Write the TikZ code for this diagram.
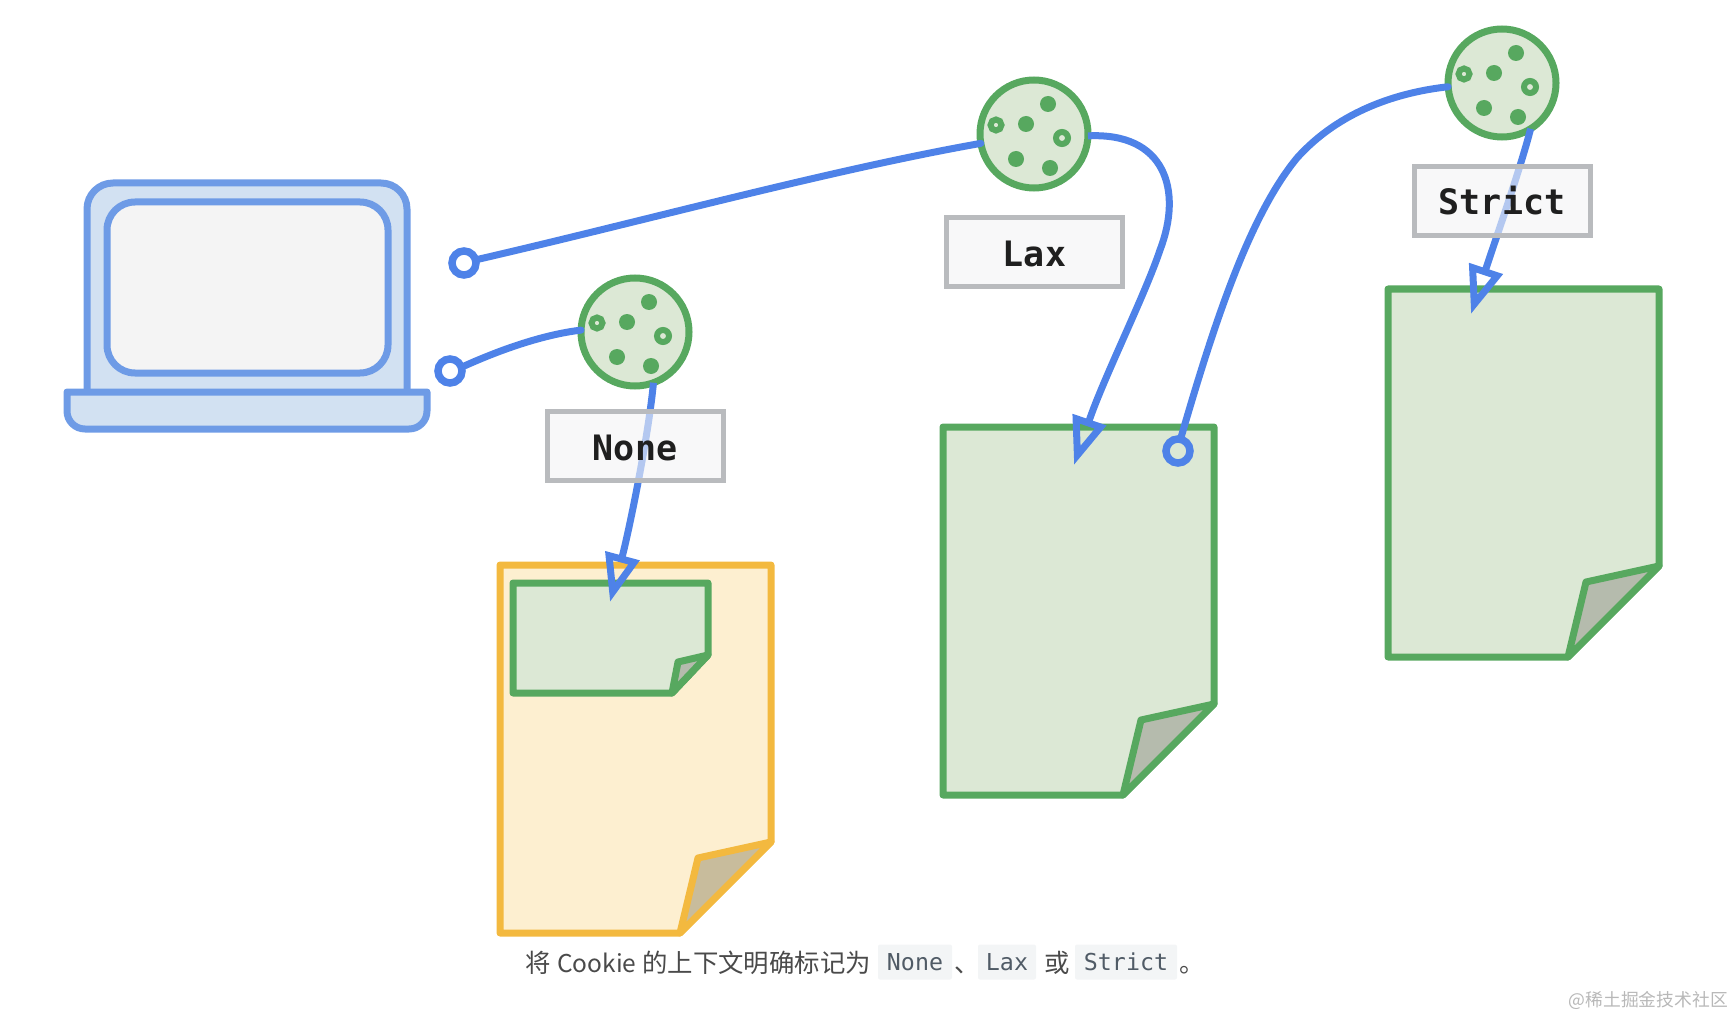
\documentclass[tikz,border=0pt]{standalone}
\usepackage{fontspec}
\usetikzlibrary{arrows.meta}
\setmonofont{DejaVu Sans Mono}
\newfontfamily\cjkfont{Noto Sans CJK SC}
\definecolor{linkblue}{HTML}{4E82E8}
\definecolor{lapblue}{HTML}{6E9BE6}
\definecolor{lapfill}{HTML}{D2E1F2}
\definecolor{scrfill}{HTML}{F4F4F4}
\definecolor{gstroke}{HTML}{57A85F}
\definecolor{gfill}{HTML}{DCE8D5}
\definecolor{gfold}{HTML}{B5BBAD}
\definecolor{ystroke}{HTML}{F3B93F}
\definecolor{yfill}{HTML}{FDEFD0}
\definecolor{yfold}{HTML}{C8BC9C}
\definecolor{boxgray}{HTML}{B9BBBE}
\definecolor{boxfill}{HTML}{F3F4F5}
\definecolor{chipfill}{HTML}{F3F5F6}
\definecolor{chiptext}{HTML}{505B66}
\definecolor{captext}{HTML}{4A4A4A}
\definecolor{marktext}{HTML}{B8B8B8}
\tikzset{
  lid/.style={draw=lapblue,fill=lapfill,line width=7pt,line join=round},
  screenpart/.style={draw=lapblue,fill=scrfill,line width=7pt,rounded corners=28pt},
  page/.style={line width=7pt,line join=round},
  cookie/.style={circle,draw=gstroke,fill=gfill,line width=7pt,minimum size=108pt,inner sep=0pt,outer sep=0pt},
  ring/.style={circle,draw=linkblue,line width=7.5pt,minimum size=24pt,inner sep=0pt,outer sep=0pt},
  link/.style={draw=linkblue,line width=7pt,line cap=round},
  linkhead/.style={link,line cap=butt,-{Triangle[open,length=48pt,width=34pt,line width=7pt]}},
  tagbox/.style={draw=boxgray,line width=5pt,fill=boxfill,fill opacity=.62,text opacity=1,
    minimum width=176pt,minimum height=69pt,inner sep=0pt,text height=28pt,text depth=0pt,
    font=\ttfamily\bfseries\fontsize{35}{35}\selectfont,text=black!88},
  chip/.style={fill=chipfill,minimum height=35pt,inner sep=0pt,text=chiptext,
    font=\ttfamily\fontsize{23.3}{24}\selectfont,rounded corners=2pt},
  caption/.style={inner sep=0pt,anchor=base west,text=captext,font=\cjkfont\fontsize{25.4}{26}\selectfont},
  watermark/.style={inner sep=0pt,anchor=base east,text=marktext,font=\cjkfont\fontsize{17.8}{18}\selectfont},
}
\newcommand{\pagedoc}[4]{%
  \begin{scope}[shift={(#1)}]
    \draw[page,draw=#2,fill=#3] (500,565) -- (771,565) -- (771,842) -- (680,933) -- (500,933) -- cycle;
    \draw[page,draw=#2,fill=#4] (771,842) -- (698,858) -- (680,933) -- cycle;
  \end{scope}}
\newcommand{\cookiedots}[1]{%
  \begin{scope}[shift={(#1)}]
    \fill[gstroke] (14,-30) circle (8pt) (-8,-10) circle (8pt) (-18,25) circle (8pt) (16,34) circle (8pt);
    \draw[gstroke,line width=6pt] (-38,-9) circle (5.5pt) (28,4) circle (6pt);
  \end{scope}}
\begin{document}
\begin{tikzpicture}[x=1pt,y=-1pt]
\useasboundingbox (0,0) rectangle (1734,1016);
% laptop
\draw[lid,rounded corners=26pt] (87,395) -- (87,183) -- (407,183) -- (407,395);
\draw[screenpart] (107,202) rectangle (388,373);
\draw[lid] (67,392) -- (427,392) -- (427,411) .. controls (427,421) and (419,429) .. (409,429)
  -- (85,429) .. controls (75,429) and (67,421) .. (67,411) -- cycle;
% documents
\pagedoc{0,0}{ystroke}{yfill}{yfold}
\draw[page,draw=gstroke,fill=gfill] (513,583) -- (708,583) -- (708,655) -- (672,693) -- (513,693) -- cycle;
\draw[page,draw=gstroke,fill=gfold] (708,655) -- (678,662) -- (672,693) -- cycle;
\pagedoc{443,-138}{gstroke}{gfill}{gfold}
\pagedoc{888,-276}{gstroke}{gfill}{gfold}
% cookies and rings
\node[cookie] (nonecookie) at (635,332) {};
\node[cookie] (laxcookie) at (1034,134) {};
\node[cookie] (strictcookie) at (1502,83) {};
\node[ring] (ringtop) at (464,263) {};
\node[ring] (ringlow) at (450,371) {};
\node[ring] (ringdoc) at (1178,451) {};
\coordinate (nonetip) at (610,602);
\coordinate (laxtip) at (1074,465);
\coordinate (stricttip) at (1471,314);
% connectors
\path[link] (ringtop.15) .. controls (640,222) and (830,170) .. (laxcookie.190);
\path[link] (ringlow.18) .. controls (495,352) and (540,335) .. (nonecookie.178);
\path[linkhead] (nonecookie.-70) .. controls (648,440) and (628,535) .. (nonetip);
\path[linkhead] (laxcookie.-2) .. controls (1165,132) and (1183,190) .. (1160,250)
  .. controls (1145,295) and (1104,377) .. (laxtip);
\path[link] (ringdoc.78) .. controls (1215,320) and (1250,215) .. (1297,158)
  .. controls (1340,110) and (1400,92) .. (strictcookie.184);
\path[linkhead] (strictcookie.-58) .. controls (1520,170) and (1496,238) .. (stricttip);
% cookie details
\cookiedots{635,332}
\cookiedots{1034,134}
\cookiedots{1502,83}
% tags
\node[tagbox] (nonetag) at (635,446) {None};
\node[tagbox] (laxtag) at (1034.5,252) {Lax};
\node[tagbox] (stricttag) at (1502,201) {Strict};
% caption
\node[caption] (capa) at (525,972) {将};
\node[caption,font=\cjkfont\fontsize{24.5}{26}\selectfont] (capb) at (557,972) {Cookie};
\node[caption] (capc) at (642,972) {的上下文明确标记为};
\node[chip,minimum width=74pt] (chipnone) at (915,962) {None};
\node[caption] (capd) at (954,972) {、};
\node[chip,minimum width=58pt] (chiplax) at (1007,962) {Lax};
\node[caption] (cape) at (1044,972) {或};
\node[chip,minimum width=102pt] (chipstrict) at (1126,962) {Strict};
\node[caption] (capf) at (1179,972) {。};
\node[watermark] (mark) at (1728,1006) {@稀土掘金技术社区};
\end{tikzpicture}
\end{document}
